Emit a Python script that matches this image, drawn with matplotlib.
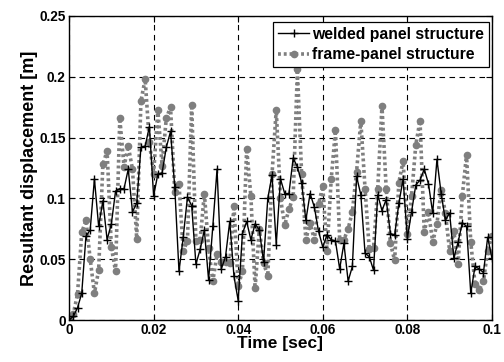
import numpy as np
import matplotlib
matplotlib.use("Agg")
import matplotlib.pyplot as plt

plt.rcParams['font.family'] = ['Liberation Sans', 'DejaVu Sans']
plt.rcParams['font.weight'] = 'bold'

# time axis, 1 ms steps
time = np.arange(101) * 0.001

welded = [0.000, 0.003, 0.010, 0.022, 0.069, 0.074, 0.116, 0.077, 0.098, 0.066,
          0.079, 0.106, 0.108, 0.108, 0.124, 0.089, 0.096, 0.142, 0.143, 0.159,
          0.102, 0.120, 0.121, 0.142, 0.155, 0.109, 0.040, 0.068, 0.101, 0.094,
          0.046, 0.058, 0.074, 0.033, 0.077, 0.124, 0.042, 0.052, 0.081, 0.036,
          0.016, 0.071, 0.081, 0.066, 0.079, 0.074, 0.048, 0.100, 0.119, 0.062,
          0.116, 0.104, 0.104, 0.133, 0.126, 0.113, 0.082, 0.104, 0.093, 0.073,
          0.060, 0.070, 0.066, 0.065, 0.042, 0.063, 0.032, 0.044, 0.118, 0.103,
          0.055, 0.052, 0.041, 0.103, 0.090, 0.099, 0.071, 0.070, 0.096, 0.116,
          0.067, 0.089, 0.111, 0.115, 0.124, 0.112, 0.088, 0.132, 0.104, 0.082,
          0.088, 0.051, 0.064, 0.080, 0.077, 0.022, 0.044, 0.042, 0.039, 0.068,
          0.051]

frame = [0.000, 0.005, 0.021, 0.072, 0.082, 0.050, 0.022, 0.041, 0.128, 0.139,
         0.060, 0.040, 0.166, 0.126, 0.143, 0.124, 0.067, 0.180, 0.198, 0.146,
         0.120, 0.173, 0.127, 0.166, 0.175, 0.105, 0.112, 0.057, 0.065, 0.177,
         0.065, 0.066, 0.104, 0.059, 0.032, 0.054, 0.048, 0.048, 0.047, 0.094,
         0.028, 0.040, 0.141, 0.102, 0.026, 0.075, 0.047, 0.036, 0.120, 0.173,
         0.100, 0.078, 0.091, 0.101, 0.206, 0.120, 0.066, 0.080, 0.066, 0.095,
         0.110, 0.057, 0.116, 0.156, 0.066, 0.066, 0.075, 0.089, 0.122, 0.164,
         0.108, 0.058, 0.059, 0.108, 0.176, 0.108, 0.063, 0.049, 0.113, 0.131,
         0.071, 0.102, 0.144, 0.164, 0.072, 0.089, 0.064, 0.079, 0.107, 0.088,
         0.057, 0.073, 0.046, 0.102, 0.136, 0.064, 0.030, 0.025, 0.032, 0.057,
         0.069]

xticks = [0, 0.02, 0.04, 0.06, 0.08, 0.1]
yticks = [0, 0.05, 0.1, 0.15, 0.2, 0.25]
xlabels = ['0', '0.02', '0.04', '0.06', '0.08', '0.1']
ylabels = ['0', '0.05', '0.1', '0.15', '0.2', '0.25']

fig = plt.figure(figsize=(5.04, 3.62), dpi=100)
ax = fig.add_axes([0.137, 0.116, 0.839, 0.840])

l2, = ax.plot(time, frame, linestyle=(0, (0.8, 0.8)), color='#7f7f7f', lw=2.6,
              marker='o', ms=4.5, mfc='#7f7f7f', mec='#7f7f7f',
              label='frame-panel structure', zorder=2)
l1, = ax.plot(time, welded, '-', color='black', lw=1.0, marker='+', ms=6,
              mew=1.0, label='welded panel structure', zorder=3)

ax.set_xlim(0, 0.1)
ax.set_ylim(0, 0.25)
ax.set_xticks(xticks)
ax.set_xticklabels(xlabels)
ax.set_yticks(yticks)
ax.set_yticklabels(ylabels)
ax.tick_params(direction='in', length=4, width=0.8, labelsize=9.8,
               top=True, right=True)
ax.tick_params(axis='x', pad=2.5)
ax.tick_params(axis='y', pad=2.5)
ax.grid(True, color='black', linestyle=(0, (5, 4)), linewidth=0.8)
for s in ax.spines.values():
    s.set_linewidth(1.0)

ax.set_xlabel('Time [sec]', fontsize=12.5, fontweight='bold', labelpad=-1)
ax.set_ylabel('Resultant displacement [m]', fontsize=13, fontweight='bold',
              labelpad=1)

leg = ax.legend(handles=[l1, l2], loc='upper right',
                bbox_to_anchor=(0.993, 0.98), fontsize=11.3,
                frameon=True, fancybox=False, edgecolor='black',
                borderpad=0.3, labelspacing=0.35, handlelength=2.0,
                handletextpad=0.2, borderaxespad=0.0)
leg.get_frame().set_linewidth(0.9)
leg.get_frame().set_alpha(1)

fig.savefig('out.png', dpi=100)
